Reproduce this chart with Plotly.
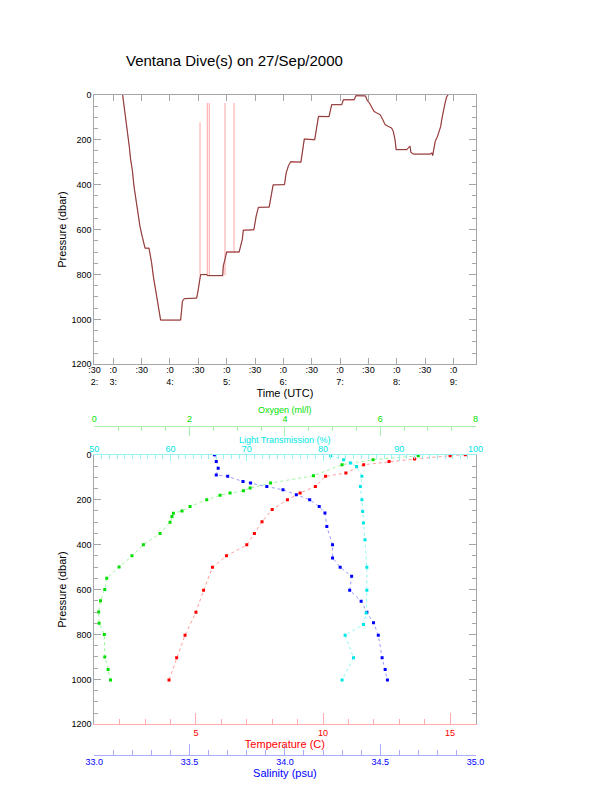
import plotly.graph_objects as go

# ---------------- Top panel: dive track (time in decimal hours UTC, pressure in dbar)
dive_hours = [3.165, 3.188, 3.224, 3.247, 3.282, 3.306, 3.335, 3.365, 3.400, 3.430, 3.470, 3.510, 3.547,
              3.560, 3.630, 3.647, 3.676, 3.706, 3.735, 3.765, 3.782, 3.806, 3.824, 3.835, 4.188,
              4.206, 4.220, 4.250, 4.470, 4.490, 4.510, 4.530, 4.540, 4.650, 4.660, 4.930,
              4.940, 4.970, 5.000, 5.220, 5.247, 5.276, 5.294, 5.480,
              5.520, 5.560, 5.750, 5.790, 5.820, 6.020, 6.050, 6.090, 6.130, 6.310,
              6.340, 6.370, 6.553, 6.590, 6.620, 6.806, 6.853, 7.030, 7.060, 7.250, 7.280, 7.450,
              7.480, 7.520, 7.560, 7.600, 7.650, 7.710, 7.755, 7.795, 7.853, 7.910, 7.940, 7.970, 7.990, 8.180,
              8.210, 8.236, 8.250, 8.295, 8.590, 8.620, 8.635, 8.665, 8.680, 8.720, 8.747, 8.776, 8.794, 8.820,
              8.853, 8.880, 8.906]
dive_dbar = [0, 44, 96, 156, 230, 289, 333, 407, 467, 526, 585, 630, 681,
             683, 683, 704, 748, 807, 852, 889, 919, 956, 1000, 1003, 1003,
             956, 919, 908, 905, 881, 852, 822, 801, 800, 805, 805,
             763, 733, 700, 700, 674, 644, 603, 601,
             541, 501, 500, 437, 401, 400, 348, 316, 298, 300,
             244, 197, 200, 141, 96, 97, 44, 44, 22, 22, 4, 5,
             25, 37, 59, 74, 81, 89, 111, 133, 141, 148, 163, 200, 244, 244,
             234, 230, 256, 264, 264, 259, 270, 230, 207, 185, 163, 141, 111, 74,
             37, 10, 0]

spike_hours = [4.530, 4.659, 4.694, 4.971, 5.130]
spike_top_dbar = [122, 36, 36, 36, 36]
spike_base_dbar = [800, 803, 803, 803, 706]

time_tickvals = [2.667, 3.0, 3.5, 4.0, 4.5, 5.0, 5.5, 6.0, 6.5, 7.0, 7.5, 8.0, 8.5, 9.0]
time_ticktext = [":30<br>2:", ":0<br>3:", ":30", ":0<br>4:", ":30", ":0<br>5:", ":30", ":0<br>6:",
                 ":30", ":0<br>7:", ":30", ":0<br>8:", ":30", ":0<br>9:"]

# ---------------- Bottom panel: profiles vs pressure
temp_dbar = [0, 4, 19, 30, 44, 81, 96, 141, 170, 200, 244, 298, 350, 401, 450, 501, 603, 701, 803, 904, 1003]
temp_c = [15.6, 15.0, 13.6, 12.6, 11.6, 10.9, 10.1, 9.7, 9.1, 8.6, 8.0, 7.6, 7.3, 7.0, 6.2, 5.65, 5.3, 5.0, 4.57, 4.24, 3.94]

sal_dbar = [0, 30, 60, 90, 96, 119, 126, 141, 156, 178, 200, 230, 259, 319, 401, 459, 501, 541, 603, 652, 701,
            748, 803, 904, 956, 1003]
sal_psu = [33.63, 33.64, 33.65, 33.64, 33.70, 33.78, 33.82, 33.905, 33.99, 34.06, 34.13, 34.18, 34.21, 34.22,
           34.25, 34.25, 34.29, 34.35, 34.34, 34.40, 34.43, 34.465, 34.49, 34.51, 34.526, 34.538]

oxy_dbar = [4, 22, 44, 93, 126, 148, 160, 170, 180, 200, 230, 250, 260, 275, 300, 350, 400, 450, 500, 550,
            600, 650, 700, 750, 800, 900, 956, 1003]
oxy_mll = [6.8, 5.85, 5.2, 4.6, 3.7, 3.27, 3.13, 2.85, 2.64, 2.36, 2.01, 1.84, 1.66, 1.63, 1.59, 1.38, 1.03,
           0.79, 0.52, 0.26, 0.22, 0.13, 0.09, 0.10, 0.21, 0.22, 0.29, 0.34]

lt_dbar = [4, 22, 37, 52, 96, 141, 200, 252, 304, 378, 501, 603, 704, 756, 803, 904, 1003]
lt_pct = [81.0, 82.7, 83.6, 84.4, 85.1, 84.9, 85.1, 85.2, 85.3, 85.5, 85.75, 85.75, 85.66, 85.3, 82.9, 84.0, 82.5]

# ---------------- geometry (window pixels -> paper); page body has an 8px margin
OFF = 8
W, H = 612 - OFF, 785 - OFF
def px(x):
    return (x - OFF) / W
def py(y):
    return 1 - (y - OFF) / H

XD = [px(94.3), px(475.5)]
YT = [py(364.3), py(94.8)]
YB = [py(724.3), py(454.8)]

GRAY = '#a6a6a6'
FONT = 'Liberation Sans, Arial, Helvetica, sans-serif'
RED, RED_L = '#ff0000', '#ffaaaa'
BLUE, BLUE_L = '#0000ff', '#aaaaff'
GREEN, GREEN_L = '#00e000', '#a8f0a8'
CYAN, CYAN_L = '#00e5e5', '#99f0f0'

spx, spy = [], []
for t, a, b in zip(spike_hours, spike_top_dbar, spike_base_dbar):
    spx += [t, t, None]
    spy += [a, b, None]

fig = go.Figure()
fig.add_trace(go.Scatter(x=spx, y=spy, mode='lines', line=dict(color='#ffb4b4', width=1.2),
                         xaxis='x', yaxis='y', hoverinfo='skip'))
fig.add_trace(go.Scatter(x=dive_hours, y=dive_dbar, mode='lines', line=dict(color='#ff9494', width=1.3),
                         xaxis='x', yaxis='y', hoverinfo='skip'))
fig.add_trace(go.Scatter(x=dive_hours, y=dive_dbar, mode='lines', line=dict(color='#2a0000', width=0.6),
                         xaxis='x', yaxis='y'))

def profile(xv, yv, xa, light, dark):
    fig.add_trace(go.Scatter(x=xv, y=yv, mode='lines+markers', xaxis=xa, yaxis='y2',
                             line=dict(color=light, width=1, dash='dot'),
                             marker=dict(color=dark, size=3, symbol='square')))

profile(oxy_mll, oxy_dbar, 'x4', '#9cf59c', GREEN)
profile(temp_c, temp_dbar, 'x2', '#ff9a9a', RED)
profile(sal_psu, sal_dbar, 'x3', '#9a9aff', BLUE)
profile(lt_pct, lt_dbar, 'x5', '#8ff5f5', CYAN)

def xax(**kw):
    d = dict(showgrid=False, zeroline=False, showline=True, ticks='inside', automargin=False)
    d.update(kw)
    return d

fig.update_layout(
    width=W, height=H, margin=dict(l=0, r=0, t=0, b=0),
    paper_bgcolor='white', plot_bgcolor='white', showlegend=False,
    font=dict(family=FONT, size=9, color='black'),
    title=dict(text='Ventana Dive(s) on 27/Sep/2000', x=px(126), xanchor='left', y=py(61), yanchor='middle',
               font=dict(size=15, color='black')),
    xaxis=xax(domain=XD, anchor='y', range=[2.665, 9.39], tickmode='array', tickvals=time_tickvals,
              ticktext=time_ticktext, ticklen=6, tickcolor=GRAY, linecolor=GRAY, mirror='ticks',
              ticklabelstandoff=-3,
              title=dict(text='Time (UTC)', standoff=1)),
    yaxis=xax(domain=YT, anchor='x', range=[1200, 0], tick0=0, dtick=200, ticklen=7, tickcolor=GRAY,
              linecolor=GRAY, mirror='ticks',
              minor=dict(dtick=50, ticks='inside', ticklen=4, tickcolor=GRAY),
              title=dict(text='Pressure (dbar)', standoff=2)),
    yaxis2=xax(domain=YB, anchor='x2', range=[1200, 0], tick0=0, dtick=200, ticklen=7, tickcolor=GRAY,
               linecolor=GRAY, mirror='ticks',
               minor=dict(dtick=50, ticks='inside', ticklen=4, tickcolor=GRAY),
               title=dict(text='Pressure (dbar)', standoff=2)),
    xaxis2=xax(domain=XD, anchor='y2', range=[1, 16], tick0=0, dtick=5, ticklen=11, tickcolor=RED_L,
               linecolor=RED_L, tickfont=dict(color=RED),
               minor=dict(dtick=1, ticks='inside', ticklen=5, tickcolor=RED_L),
               title=dict(text='Temperature (C)', standoff=1, font=dict(color=RED))),
    xaxis3=xax(domain=XD, anchor='free', overlaying='x2', side='bottom', position=py(755),
               range=[33, 35], tick0=33, dtick=0.5, tickformat='.1f', ticklen=11, tickcolor=BLUE_L,
               linecolor=BLUE_L, tickfont=dict(color=BLUE), ticklabelstandoff=-2,
               minor=dict(dtick=0.1, ticks='inside', ticklen=5, tickcolor=BLUE_L),
               title=dict(text='Salinity (psu)', standoff=0, font=dict(color=BLUE))),
    xaxis4=xax(domain=XD, anchor='free', overlaying='x2', side='top', position=py(425.7),
               range=[0, 8], tick0=0, dtick=2, ticklen=9, tickcolor=GREEN_L,
               linecolor=GREEN_L, tickfont=dict(color=GREEN),
               minor=dict(dtick=0.5, ticks='inside', ticklen=4, tickcolor=GREEN_L)),
    xaxis5=xax(domain=XD, anchor='y2', overlaying='x2', side='top',
               range=[50, 100], tick0=50, dtick=10, ticklen=6, tickcolor=CYAN_L,
               linecolor=CYAN_L, tickfont=dict(color=CYAN), ticklabelstandoff=-2,
               minor=dict(dtick=1, ticks='inside', ticklen=4, tickcolor=CYAN_L)),
    annotations=[
        dict(text='Oxygen (ml/l)', x=px(284.9), y=py(410), xref='paper', yref='paper',
             xanchor='center', yanchor='middle', showarrow=False, font=dict(size=9, color=GREEN)),
        dict(text='Light Transmission (%)', x=px(284.9), y=py(439.5), xref='paper', yref='paper',
             xanchor='center', yanchor='middle', showarrow=False, font=dict(size=9, color=CYAN)),
    ],
)

fig.write_html('out.html')
